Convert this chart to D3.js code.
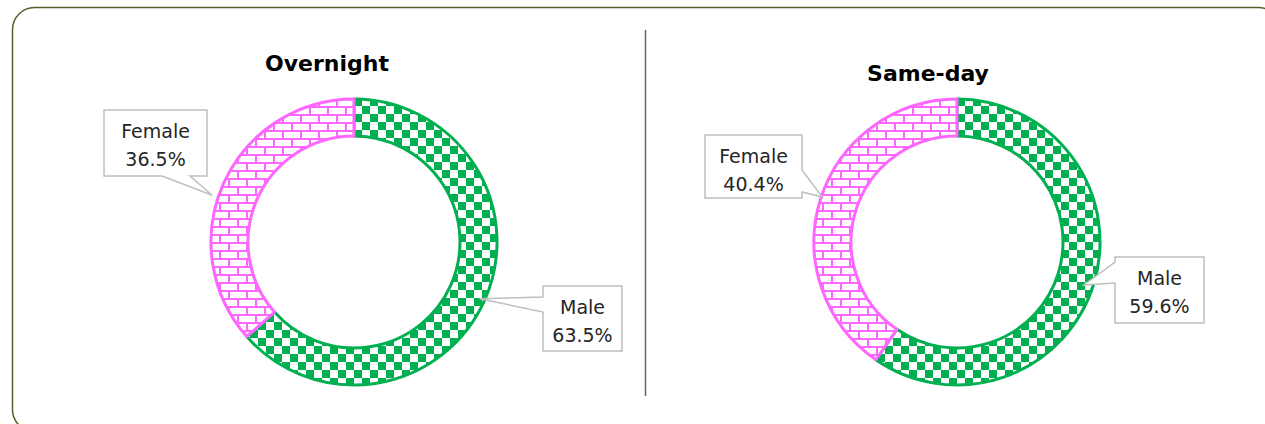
<!DOCTYPE html>
<html>
<head>
<meta charset="utf-8">
<script src="https://cdn.jsdelivr.net/npm/d3@7"></script>
<style>
  body { margin: 0; background: #fff; }
  svg { display: block; }
</style>
</head>
<body>
<div class="chart"></div>
<script>
// Data
const panels = ["Overnight", "Same-day"];
const categories = ["Male", "Female"];
const overnightValues = [63.5, 36.5];
const sameDayValues = [59.6, 40.4];

const width = 1265, height = 424;

const svg = d3.select(".chart")
  .append("svg")
  .attr("width", width)
  .attr("height", height);

// Patterns: green checkerboard and pink horizontal bricks
const defs = svg.append("defs");
const checker = defs.append("pattern")
  .attr("id", "checker")
  .attr("patternUnits", "userSpaceOnUse")
  .attr("width", 16).attr("height", 16);
checker.append("rect").attr("width", 16).attr("height", 16).attr("fill", "#fff");
checker.append("rect").attr("width", 8).attr("height", 8).attr("fill", "#00b050");
checker.append("rect").attr("x", 8).attr("y", 8).attr("width", 8).attr("height", 8).attr("fill", "#00b050");

const brick = defs.append("pattern")
  .attr("id", "brick")
  .attr("patternUnits", "userSpaceOnUse")
  .attr("width", 18).attr("height", 16);
brick.append("rect").attr("width", 18).attr("height", 16).attr("fill", "#fff");
brick.append("path")
  .attr("d", "M0,1H18M0,9H18M1,1V9M10,9V17")
  .attr("stroke", "#ff66ff")
  .attr("stroke-width", 2)
  .attr("fill", "none");

const fills = { Male: "url(#checker)", Female: "url(#brick)" };
const strokes = { Male: "#00b050", Female: "#ff66ff" };

// Frame and divider
svg.append("rect")
  .attr("x", 12.5).attr("y", 7.5)
  .attr("width", 1268).attr("height", 424)
  .attr("rx", 22)
  .attr("fill", "none")
  .attr("stroke", "#4f6228")
  .attr("stroke-width", 1.5);

svg.append("line")
  .attr("x1", 645.5).attr("x2", 645.5)
  .attr("y1", 30).attr("y2", 396)
  .attr("stroke", "#5d6b50")
  .attr("stroke-width", 1.5);

// Layout of the two panels
const layout = [
  {
    cx: 354, cy: 242, titleX: 327, titleY: 71,
    callouts: {
      Female: { dx: -250, dy: -132, w: 103, h: 66, side: "bottom", b0: 58, b1: 86, nx: -16, ny: 10 },
      Male: { dx: 189, dy: 44, w: 79, h: 65, side: "left", b0: 11, b1: 26, nx: 0, ny: 0 }
    }
  },
  {
    cx: 957, cy: 242, titleX: 928, titleY: 81,
    callouts: {
      Female: { dx: -252, dy: -107, w: 97, h: 63, side: "right", b0: 35, b1: 57, nx: -3, ny: -4 },
      Male: { dx: 158, dy: 15, w: 89, h: 66, side: "left", b0: 5, b1: 26, nx: -5, ny: 2 }
    }
  }
];
const valueSets = [overnightValues, sameDayValues];

const outerR = 143, innerR = 106, tipR = 138;

const pie = d3.pie().sort(null).value(d => d.value);
const arc = d3.arc().innerRadius(innerR).outerRadius(outerR);

function calloutPath(x, y, w, h, side, b0, b1, tip) {
  const p = d3.path();
  p.moveTo(x, y);
  p.lineTo(x + w, y);
  if (side === "right") {
    p.lineTo(x + w, y + b0); p.lineTo(tip[0], tip[1]); p.lineTo(x + w, y + b1);
  }
  p.lineTo(x + w, y + h);
  if (side === "bottom") {
    p.lineTo(x + b1, y + h); p.lineTo(tip[0], tip[1]); p.lineTo(x + b0, y + h);
  }
  p.lineTo(x, y + h);
  if (side === "left") {
    p.lineTo(x, y + b1); p.lineTo(tip[0], tip[1]); p.lineTo(x, y + b0);
  }
  p.closePath();
  return p.toString();
}

panels.forEach((title, i) => {
  const L = layout[i];
  const data = categories.map((c, j) => ({ category: c, value: valueSets[i][j] }));

  svg.append("text")
    .attr("x", L.titleX).attr("y", L.titleY)
    .attr("text-anchor", "middle")
    .style("font-family", "'DejaVu Sans', sans-serif")
    .style("font-weight", "bold")
    .style("font-size", "22px")
    .attr("fill", "#000")
    .text(title);

  const g = svg.append("g")
    .attr("transform", `translate(${L.cx},${L.cy})`);

  const arcs = pie(data);

  g.selectAll("path.slice")
    .data(arcs)
    .join("path")
    .attr("class", "slice")
    .attr("d", arc)
    .attr("fill", d => fills[d.data.category])
    .attr("stroke", d => strokes[d.data.category])
    .attr("stroke-width", 3)
    .attr("stroke-linejoin", "round");

  // Callout labels
  arcs.forEach(a => {
    const c = L.callouts[a.data.category];
    const mid = (a.startAngle + a.endAngle) / 2;
    const tip = [tipR * Math.sin(mid) + c.nx, -tipR * Math.cos(mid) + c.ny];
    const bx = c.dx, by = c.dy;
    g.append("path")
      .attr("d", calloutPath(bx, by, c.w, c.h, c.side, c.b0, c.b1, tip))
      .attr("fill", "#fff")
      .attr("stroke", "#bfbfbf")
      .attr("stroke-width", 1.5);
    const t = g.append("text")
      .attr("text-anchor", "middle")
      .style("font-family", "'DejaVu Sans', sans-serif")
      .style("font-size", "19px")
      .attr("fill", "#262626");
    t.append("tspan").attr("x", bx + c.w / 2).attr("y", by + 28).text(a.data.category);
    t.append("tspan").attr("x", bx + c.w / 2).attr("y", by + 56).text(d3.format(".1f")(a.data.value) + "%");
  });
});
</script>
</body>
</html>
